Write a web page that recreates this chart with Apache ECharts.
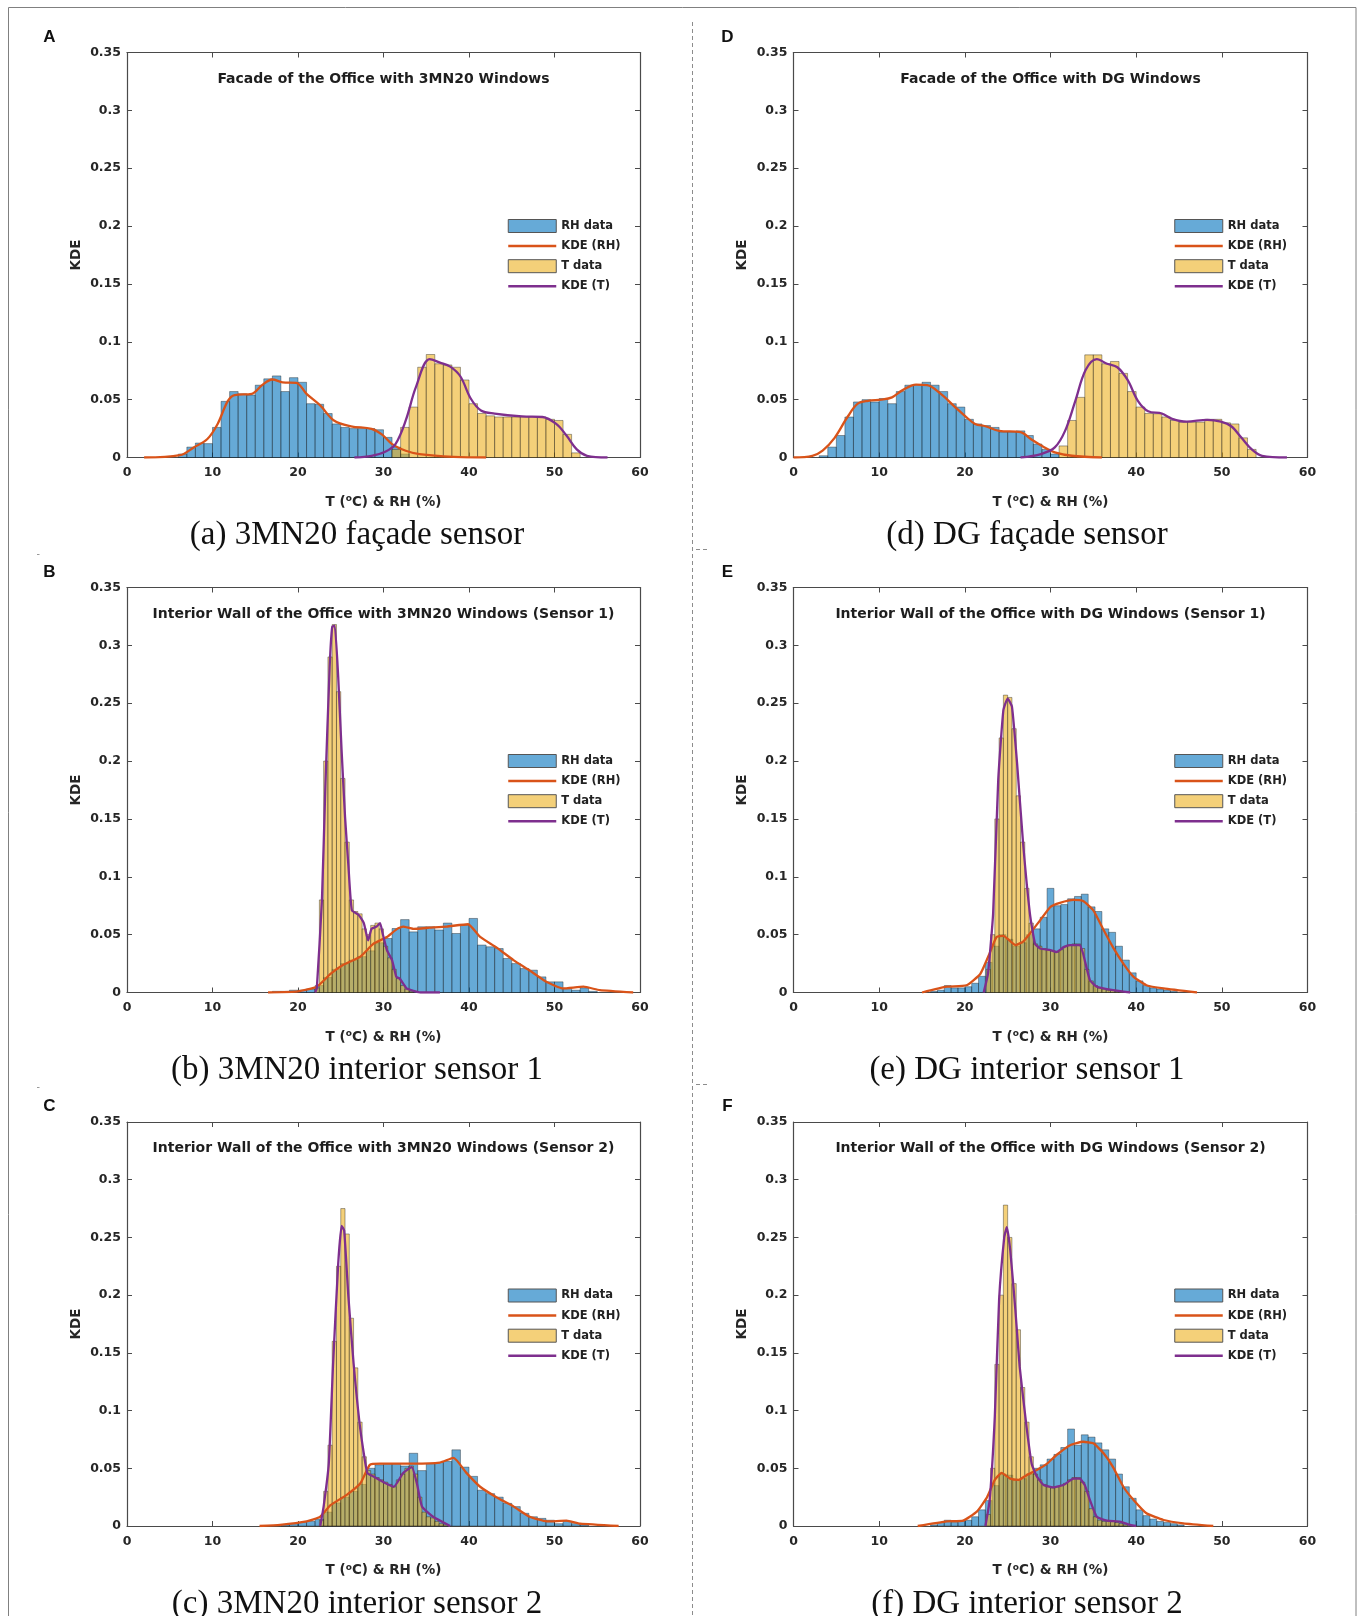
<!DOCTYPE html>
<html>
<head>
<meta charset="utf-8">
<script src="https://cdn.jsdelivr.net/npm/echarts@6/dist/echarts.min.js"></script>
<style>
  html, body { margin: 0; padding: 0; background: #fff; }
  #main { width: 1357px; height: 1616px; }
</style>
</head>
<body>
<div id="main"></div>
<script>
// ---- axis ticks -------------------------------------------------------
const xTickLabels = [0, 10, 20, 30, 40, 50, 60];
const yTickLabels = [0, 0.05, 0.1, 0.15, 0.2, 0.25, 0.3, 0.35];
const seriesNames = ['RH data', 'KDE (RH)', 'T data', 'KDE (T)'];

// ---- panel texts ------------------------------------------------------
const panelLetters = ['A', 'B', 'C', 'D', 'E', 'F'];
const panelTitles = [
  'Facade of the Office with 3MN20 Windows',
  'Interior Wall of the Office with 3MN20 Windows (Sensor 1)',
  'Interior Wall of the Office with 3MN20 Windows (Sensor 2)',
  'Facade of the Office with DG Windows',
  'Interior Wall of the Office with DG Windows (Sensor 1)',
  'Interior Wall of the Office with DG Windows (Sensor 2)'
];
const captions = [
  '(a) 3MN20 façade sensor',
  '(b) 3MN20 interior sensor 1',
  '(c) 3MN20 interior sensor 2',
  '(d) DG façade sensor',
  '(e) DG interior sensor 1',
  '(f) DG interior sensor 2'
];

// ---- A: 3MN20 facade --------------------------------------------------
const rhBinStart_A = 6, rhBinWidth_A = 1;
const rhHist_A = [0.003, 0.009, 0.0125, 0.012, 0.026, 0.0485, 0.057, 0.055, 0.054, 0.0625,
  0.068, 0.0705, 0.057, 0.069, 0.065, 0.0465, 0.046, 0.038, 0.029, 0.026,
  0.025, 0.025, 0.025, 0.024, 0.0174, 0.009, 0.003];
const tBinStart_A = 31, tBinWidth_A = 1;
const tHist_A = [0.007, 0.026, 0.0436, 0.078, 0.089, 0.081, 0.08, 0.078, 0.067, 0.0465,
  0.038, 0.036, 0.035, 0.035, 0.035, 0.035, 0.035, 0.035, 0.033, 0.032, 0.02, 0.004];
const kdeRH_A = [[2, 0], [6.2, 0.002], [7.8, 0.0087], [9.4, 0.016], [10.6, 0.029], [11.8, 0.049],
  [12.6, 0.054], [14.6, 0.055], [15.8, 0.0625], [17, 0.0674], [18.2, 0.065], [19.8, 0.0645],
  [21, 0.055], [22.6, 0.045], [24.2, 0.032], [26.2, 0.027], [28.6, 0.0247], [29.8, 0.02],
  [31, 0.0116], [32.6, 0.0058], [34.2, 0.003], [38.2, 0.0006], [42, 0]];
const kdeT_A = [[26.6, 0], [28.6, 0.0015], [30.2, 0.005], [31.4, 0.0116], [32.6, 0.032], [33.8, 0.061],
  [35.4, 0.085], [36.6, 0.082], [37.8, 0.0785], [39, 0.07], [40.2, 0.051], [41.4, 0.0407],
  [43, 0.038], [46.2, 0.0355], [48.6, 0.035], [50.2, 0.029], [51.4, 0.019], [52.6, 0.007],
  [53.8, 0.0015], [56.2, 0]];

// ---- B: 3MN20 interior sensor 1 ---------------------------------------
const rhBinStart_B = 17, rhBinWidth_B = 1;
const rhHist_B = [0.001, 0.001, 0.002, 0.002, 0.003, 0.006, 0.013, 0.02, 0.025, 0.028,
  0.031, 0.036, 0.043, 0.0467, 0.0553, 0.063, 0.0524, 0.0568, 0.0568, 0.054,
  0.06, 0.051, 0.058, 0.064, 0.041, 0.0395, 0.038, 0.0294, 0.025, 0.0207,
  0.0193, 0.0135, 0.0092, 0.0092, 0.0035, 0.002, 0.004, 0.001];
const tBinStart_B = 22, tBinWidth_B = 0.5;
const tHist_B = [0.004, 0.08, 0.2, 0.29, 0.318, 0.26, 0.185, 0.13, 0.08, 0.07,
  0.068, 0.055, 0.05, 0.058, 0.06, 0.055, 0.04, 0.03, 0.02, 0.012, 0.006, 0.003, 0.001];
const kdeRH_B = [[16.5, 0], [20, 0.001], [22.2, 0.005], [23.8, 0.016], [25.3, 0.024], [27.3, 0.031],
  [28.8, 0.042], [30.4, 0.048], [31.6, 0.055], [32.3, 0.057], [33.5, 0.055], [35.4, 0.056],
  [37.4, 0.057], [39.9, 0.059], [41.3, 0.048], [43.2, 0.039], [45.2, 0.028], [47.1, 0.019],
  [49.1, 0.009], [51, 0.0035], [53.4, 0.005], [55.3, 0.002], [59.2, 0]];
const kdeT_B = [[22, 0], [22.2, 0.0035], [22.8, 0.08], [23.2, 0.178], [23.7, 0.281], [24, 0.316],
  [24.3, 0.317], [24.7, 0.273], [25.1, 0.209], [25.5, 0.152], [25.9, 0.109], [26.3, 0.071],
  [27.1, 0.067], [27.7, 0.06], [28.2, 0.045], [28.6, 0.055], [29.2, 0.057], [29.6, 0.06],
  [29.9, 0.051], [30.4, 0.0366], [31, 0.028], [31.5, 0.0135], [31.9, 0.012], [32.7, 0.0035],
  [33.5, 0.0015], [34.3, 0], [36.6, 0]];

// ---- C: 3MN20 interior sensor 2 ---------------------------------------
const rhBinStart_C = 18, rhBinWidth_C = 1;
const rhHist_C = [0.001, 0.002, 0.003, 0.004, 0.006, 0.012, 0.02, 0.025, 0.03, 0.036,
  0.05, 0.053, 0.054, 0.054, 0.052, 0.063, 0.048, 0.054, 0.055, 0.056,
  0.066, 0.051, 0.043, 0.031, 0.028, 0.025, 0.0196, 0.0168, 0.011, 0.008,
  0.0066, 0.005, 0.002, 0.004, 0.002, 0.001];
const tBinStart_C = 22.5, tBinWidth_C = 0.5;
const tHist_C = [0.005, 0.03, 0.07, 0.16, 0.225, 0.275, 0.253, 0.18, 0.137, 0.09,
  0.06, 0.048, 0.045, 0.042, 0.04, 0.038, 0.036, 0.034, 0.04, 0.045,
  0.05, 0.052, 0.045, 0.025, 0.012, 0.008, 0.007, 0.004, 0.002, 0.001];
const kdeRH_C = [[15.5, 0], [17.9, 0.001], [21, 0.004], [22.6, 0.008], [23.8, 0.018], [25.7, 0.027],
  [27.3, 0.037], [28.4, 0.053], [29.6, 0.054], [33.5, 0.054], [36.6, 0.055], [38.2, 0.059],
  [39.7, 0.046], [41.3, 0.034], [43.2, 0.025], [45.2, 0.017], [47.1, 0.008], [49.1, 0.004],
  [51.4, 0.0046], [53, 0.002], [57.5, 0]];
const kdeT_C = [[22.6, 0], [23, 0.017], [23.6, 0.054], [24.1, 0.14], [24.7, 0.227], [25.1, 0.26],
  [25.4, 0.256], [25.9, 0.198], [26.5, 0.141], [27.3, 0.083], [28.1, 0.046], [28.8, 0.043],
  [30, 0.038], [31.2, 0.034], [32.3, 0.046], [33.3, 0.051], [33.9, 0.037], [34.5, 0.017],
  [35.8, 0.008], [37.8, 0]];

// ---- D: DG facade -----------------------------------------------------
const rhBinStart_D = 3, rhBinWidth_D = 1;
const rhHist_D = [0.0015, 0.009, 0.019, 0.035, 0.048, 0.05, 0.048, 0.051, 0.0465, 0.057,
  0.0625, 0.063, 0.065, 0.0625, 0.057, 0.0465, 0.0436, 0.033, 0.029, 0.0276,
  0.026, 0.022, 0.022, 0.023, 0.019, 0.0116, 0.007, 0.003];
const tBinStart_D = 31, tBinWidth_D = 1;
const tHist_D = [0.01, 0.032, 0.052, 0.0887, 0.0887, 0.081, 0.083, 0.0727, 0.057, 0.0436,
  0.038, 0.0378, 0.035, 0.032, 0.0305, 0.0305, 0.0305, 0.033, 0.033, 0.03, 0.029, 0.017, 0.007];
const kdeRH_D = [[0, 0], [2.2, 0.0015], [3.4, 0.006], [4.8, 0.017], [6.3, 0.035], [7.5, 0.0465],
  [8.7, 0.049], [10.3, 0.05], [11.5, 0.052], [12.7, 0.058], [14.3, 0.063], [15.6, 0.0625],
  [17.2, 0.055], [18.8, 0.044], [20, 0.036], [21.2, 0.029], [22.4, 0.027], [24, 0.023],
  [26.5, 0.022], [27.7, 0.016], [29.3, 0.0087], [30.5, 0.0044], [32.5, 0.0015], [36, 0]];
const kdeT_D = [[26.5, 0], [28.9, 0.003], [30.5, 0.0087], [31.7, 0.023], [32.9, 0.049], [34.1, 0.0756],
  [35.4, 0.085], [36.6, 0.081], [37.8, 0.078], [39, 0.067], [40.2, 0.049], [41.4, 0.04],
  [43, 0.038], [44.2, 0.0334], [45.9, 0.031], [48.3, 0.0326], [49.9, 0.031], [51.1, 0.027],
  [52.3, 0.017], [53.5, 0.007], [54.7, 0.0015], [57.6, 0]];

// ---- E: DG interior sensor 1 ------------------------------------------
const rhBinStart_E = 16, rhBinWidth_E = 0.8;
const rhHist_E = [0.001, 0.002, 0.006, 0.004, 0.004, 0.005, 0.008, 0.014, 0.026, 0.04,
  0.05, 0.046, 0.04, 0.043, 0.05, 0.055, 0.065, 0.09, 0.075, 0.076,
  0.081, 0.083, 0.085, 0.074, 0.07, 0.055, 0.052, 0.04, 0.028, 0.017,
  0.01, 0.006, 0.004, 0.003, 0.002, 0.001];
const tBinStart_E = 22.5, tBinWidth_E = 0.5;
const tHist_E = [0.02, 0.05, 0.15, 0.22, 0.257, 0.255, 0.228, 0.17, 0.13, 0.09,
  0.06, 0.042, 0.04, 0.038, 0.037, 0.036, 0.035, 0.037, 0.04, 0.041,
  0.042, 0.042, 0.038, 0.02, 0.01, 0.006, 0.004, 0.003, 0.002, 0.002, 0.001, 0.001];
const kdeRH_E = [[15, 0], [17.9, 0.005], [20.2, 0.0063], [21.8, 0.016], [22.9, 0.034], [23.7, 0.048],
  [24.5, 0.049], [25.9, 0.041], [26.8, 0.044], [27.6, 0.051], [28.8, 0.0625], [30, 0.074],
  [31.1, 0.0775], [32.7, 0.08], [33.8, 0.079], [35, 0.071], [36.2, 0.054], [37.3, 0.039],
  [38.5, 0.025], [39.7, 0.0135], [41.2, 0.0063], [43.2, 0.0035], [47.1, 0]];
const kdeT_E = [[22.2, 0], [22.7, 0.016], [23.3, 0.068], [23.9, 0.184], [24.5, 0.244], [25, 0.254],
  [25.5, 0.247], [26.1, 0.198], [26.8, 0.129], [27.6, 0.068], [28.2, 0.042], [28.8, 0.038],
  [30, 0.0366], [30.7, 0.035], [31.5, 0.039], [32.3, 0.041], [33.4, 0.041], [33.8, 0.0337],
  [34.6, 0.0107], [35.4, 0.005], [37.3, 0.002], [39.3, 0]];

// ---- F: DG interior sensor 2 ------------------------------------------
const rhBinStart_F = 16, rhBinWidth_F = 0.8;
const rhHist_F = [0.001, 0.003, 0.005, 0.003, 0.004, 0.005, 0.008, 0.014, 0.022, 0.035,
  0.045, 0.044, 0.04, 0.041, 0.045, 0.05, 0.053, 0.058, 0.062, 0.068,
  0.084, 0.07, 0.079, 0.077, 0.072, 0.066, 0.058, 0.045, 0.034, 0.024,
  0.014, 0.009, 0.006, 0.004, 0.003, 0.002, 0.001];
const tBinStart_F = 22.5, tBinWidth_F = 0.5;
const tHist_F = [0.01, 0.05, 0.14, 0.2, 0.278, 0.25, 0.21, 0.17, 0.12, 0.09,
  0.06, 0.045, 0.04, 0.036, 0.034, 0.033, 0.034, 0.035, 0.037, 0.04,
  0.042, 0.042, 0.038, 0.03, 0.015, 0.008, 0.005, 0.004, 0.004, 0.004, 0.003, 0.002, 0.001];
const kdeRH_F = [[14.5, 0], [17.9, 0.004], [19.8, 0.0046], [21.4, 0.0124], [22.6, 0.025], [23.5, 0.04],
  [24.3, 0.046], [25.3, 0.041], [26.3, 0.04], [27.2, 0.044], [28.4, 0.0485], [29.6, 0.054],
  [30.7, 0.0615], [32.3, 0.07], [33.8, 0.073], [35, 0.0716], [36.2, 0.063], [37.3, 0.051],
  [38.5, 0.034], [39.7, 0.0225], [41.2, 0.011], [43.2, 0.0052], [45.5, 0.0023], [49, 0]];
const kdeT_F = [[22.4, 0], [22.9, 0.0225], [23.5, 0.095], [24, 0.196], [24.6, 0.25], [24.9, 0.259],
  [25.3, 0.239], [25.9, 0.187], [26.4, 0.138], [27.2, 0.086], [27.8, 0.054], [28.4, 0.043],
  [29.2, 0.0355], [30.3, 0.0335], [31.5, 0.0355], [32.7, 0.041], [33.4, 0.041], [34, 0.0355],
  [34.6, 0.0225], [35.4, 0.008], [36.6, 0.0046], [38.1, 0.0038], [39.3, 0.0009], [40, 0]];

// ---- panel collection (left column A-C, right column D-F) ---------------
const panels = [
  { rh: rhHist_A, rhStart: rhBinStart_A, rhWidth: rhBinWidth_A, t: tHist_A, tStart: tBinStart_A, tWidth: tBinWidth_A, kdeRH: kdeRH_A, kdeT: kdeT_A, smooth: 0.35 },
  { rh: rhHist_B, rhStart: rhBinStart_B, rhWidth: rhBinWidth_B, t: tHist_B, tStart: tBinStart_B, tWidth: tBinWidth_B, kdeRH: kdeRH_B, kdeT: kdeT_B, smooth: 0.15 },
  { rh: rhHist_C, rhStart: rhBinStart_C, rhWidth: rhBinWidth_C, t: tHist_C, tStart: tBinStart_C, tWidth: tBinWidth_C, kdeRH: kdeRH_C, kdeT: kdeT_C, smooth: 0.15 },
  { rh: rhHist_D, rhStart: rhBinStart_D, rhWidth: rhBinWidth_D, t: tHist_D, tStart: tBinStart_D, tWidth: tBinWidth_D, kdeRH: kdeRH_D, kdeT: kdeT_D, smooth: 0.35 },
  { rh: rhHist_E, rhStart: rhBinStart_E, rhWidth: rhBinWidth_E, t: tHist_E, tStart: tBinStart_E, tWidth: tBinWidth_E, kdeRH: kdeRH_E, kdeT: kdeT_E, smooth: 0.15 },
  { rh: rhHist_F, rhStart: rhBinStart_F, rhWidth: rhBinWidth_F, t: tHist_F, tStart: tBinStart_F, tWidth: tBinWidth_F, kdeRH: kdeRH_F, kdeT: kdeT_F, smooth: 0.15 }
];

// ---- layout & style ---------------------------------------------------
const colLeft = [127, 793.5], colWidth = [513, 514];
const rowTop = [52.5, 587.5, 1122], rowHeight = [405, 405, 404];
const SANS = 'DejaVu Sans';
const BLUE_FILL = 'rgba(0,114,189,0.6)';
const YELLOW_FILL = 'rgba(237,177,32,0.6)';
const BAR_EDGE = 'rgba(20,20,20,0.55)';
const ORANGE = '#D95319';
const PURPLE = '#7E2F8E';
const AXIS_COLOR = '#4a4a4a';
const TEXT_COLOR = '#262626';
const NO_SYMBOL = { color: 'rgba(0,0,0,0)', borderWidth: 0 };

// histogram rows: [binStart, binEnd, density]
function binsOf(start, width, heights) {
  return heights.map((h, i) => [start + i * width, start + (i + 1) * width, h]);
}
function binRenderer(fill) {
  return function (params, api) {
    const topLeft = api.coord([api.value(0), api.value(2)]);
    const bottomRight = api.coord([api.value(1), 0]);
    return {
      type: 'rect',
      shape: { x: topLeft[0], y: topLeft[1], width: bottomRight[0] - topLeft[0], height: bottomRight[1] - topLeft[1] },
      style: { fill: fill, stroke: BAR_EDGE, lineWidth: 0.7 }
    };
  };
}

const grids = [], xAxes = [], yAxes = [], series = [], legends = [], graphics = [];
const yFmt = v => String(+v.toFixed(2));

panels.forEach((p, i) => {
  const col = i < 3 ? 0 : 1, row = i % 3;
  const left = colLeft[col], top = rowTop[row], w = colWidth[col], h = rowHeight[row];
  grids.push({ left: left, top: top, width: w, height: h, containLabel: false });

  const tickCommon = {
    axisLine: { show: true, onZero: false, lineStyle: { color: AXIS_COLOR, width: 1.2 } },
    axisTick: { show: true, inside: true, length: 5, lineStyle: { color: AXIS_COLOR, width: 1 } },
    splitLine: { show: false }
  };
  const xMin = xTickLabels[0], xMax = xTickLabels[xTickLabels.length - 1];
  const xStep = xTickLabels[1] - xTickLabels[0];
  const yMin = yTickLabels[0], yMax = yTickLabels[yTickLabels.length - 1];
  const yStep = yTickLabels[1] - yTickLabels[0];

  xAxes.push(Object.assign({
    type: 'value', gridIndex: i, position: 'bottom', min: xMin, max: xMax, interval: xStep,
    axisLabel: { margin: 9, color: TEXT_COLOR, fontFamily: SANS, fontWeight: 'bold', fontSize: 12.5 },
    name: 'T ({sup|o}C) & RH (%)', nameLocation: 'middle', nameGap: 37,
    nameTextStyle: {
      fontFamily: SANS, fontWeight: 'bold', fontSize: 13.5, color: TEXT_COLOR,
      rich: { sup: { fontFamily: SANS, fontWeight: 'bold', fontSize: 9, color: TEXT_COLOR, padding: [0, 0, 6, 0] } }
    }
  }, tickCommon));
  xAxes.push(Object.assign({
    type: 'value', gridIndex: i, position: 'top', min: xMin, max: xMax, interval: xStep,
    axisLabel: { show: false }
  }, tickCommon));

  yAxes.push(Object.assign({
    type: 'value', gridIndex: i, position: 'left', min: yMin, max: yMax, interval: yStep,
    axisLabel: { margin: 6, color: TEXT_COLOR, fontFamily: SANS, fontWeight: 'bold', fontSize: 12.5, formatter: yFmt },
    name: 'KDE', nameLocation: 'middle', nameGap: 44,
    nameTextStyle: { fontFamily: SANS, fontWeight: 'bold', fontSize: 13.5, color: TEXT_COLOR }
  }, tickCommon));
  yAxes.push(Object.assign({
    type: 'value', gridIndex: i, position: 'right', min: yMin, max: yMax, interval: yStep,
    axisLabel: { show: false }
  }, tickCommon));

  const xi = 2 * i, yi = 2 * i;
  series.push({
    type: 'custom', name: seriesNames[0], xAxisIndex: xi, yAxisIndex: yi,
    renderItem: binRenderer(BLUE_FILL), itemStyle: { color: BLUE_FILL },
    encode: { x: [0, 1], y: 2 }, data: binsOf(p.rhStart, p.rhWidth, p.rh), silent: true
  });
  series.push({
    type: 'line', name: seriesNames[1], xAxisIndex: xi, yAxisIndex: yi,
    data: p.kdeRH, symbol: 'none', smooth: p.smooth,
    lineStyle: { color: ORANGE, width: 2.3 }, itemStyle: { color: ORANGE }, silent: true
  });
  series.push({
    type: 'custom', name: seriesNames[2], xAxisIndex: xi, yAxisIndex: yi,
    renderItem: binRenderer(YELLOW_FILL), itemStyle: { color: YELLOW_FILL },
    encode: { x: [0, 1], y: 2 }, data: binsOf(p.tStart, p.tWidth, p.t), silent: true
  });
  series.push({
    type: 'line', name: seriesNames[3], xAxisIndex: xi, yAxisIndex: yi,
    data: p.kdeT, symbol: 'none', smooth: p.smooth,
    lineStyle: { color: PURPLE, width: 2.3 }, itemStyle: { color: PURPLE }, silent: true
  });

  legends.push({
    orient: 'vertical', left: left + 380, top: top + 166.5, padding: 0,
    itemWidth: 48, itemHeight: 13, itemGap: 6.6, selectedMode: false,
    textStyle: { fontFamily: SANS, fontWeight: 'bold', fontSize: 11.5, color: '#222', lineHeight: 13 },
    data: [
      { name: seriesNames[0], icon: 'rect', itemStyle: { color: '#66AAD7', borderColor: '#555', borderWidth: 1 } },
      { name: seriesNames[1], itemStyle: NO_SYMBOL, lineStyle: { color: ORANGE, width: 2.5 } },
      { name: seriesNames[2], icon: 'rect', itemStyle: { color: '#F4D079', borderColor: '#555', borderWidth: 1 } },
      { name: seriesNames[3], itemStyle: NO_SYMBOL, lineStyle: { color: PURPLE, width: 2.5 } }
    ]
  });

  // panel letter, in-plot title, caption
  graphics.push({
    type: 'text', x: col === 0 ? 49.5 : 727.5, y: top - 15.5,
    style: { text: panelLetters[i], fontFamily: 'Liberation Sans', fontWeight: 'bold', fontSize: 17, fill: '#111', textAlign: 'center', textVerticalAlign: 'middle' }
  });
  graphics.push({
    type: 'text', x: left + w / 2, y: top + 26.5,
    style: { text: panelTitles[i], fontFamily: SANS, fontWeight: 'bold', fontSize: 14, fill: '#1e1e1e', textAlign: 'center', textVerticalAlign: 'middle' }
  });
  graphics.push({
    type: 'text', x: col === 0 ? 357 : 1027, y: top + h + 78,
    style: { text: captions[i], fontFamily: 'Liberation Serif', fontSize: 33, fill: '#111', textAlign: 'center', textVerticalAlign: 'middle' }
  });
});

// outer frame, column divider and small separator marks
graphics.push({ type: 'rect', shape: { x: 8.5, y: 7.5, width: 1347.5, height: 1700 }, style: { fill: 'none', stroke: '#808080', lineWidth: 1 }, silent: true });
graphics.push({ type: 'line', shape: { x1: 692.5, y1: 22, x2: 692.5, y2: 1616 }, style: { stroke: '#8c8c8c', lineWidth: 1, lineDash: [4, 3] }, silent: true });
graphics.push({ type: 'line', shape: { x1: 696, y1: 549.5, x2: 707, y2: 549.5 }, style: { stroke: '#8c8c8c', lineWidth: 1, lineDash: [4, 3] }, silent: true });
graphics.push({ type: 'line', shape: { x1: 696, y1: 1084.5, x2: 707, y2: 1084.5 }, style: { stroke: '#8c8c8c', lineWidth: 1, lineDash: [4, 3] }, silent: true });
graphics.push({ type: 'line', shape: { x1: 37, y1: 554.5, x2: 39.5, y2: 554.5 }, style: { stroke: '#999', lineWidth: 1 }, silent: true });
graphics.push({ type: 'line', shape: { x1: 37, y1: 1087.5, x2: 39.5, y2: 1087.5 }, style: { stroke: '#999', lineWidth: 1 }, silent: true });

const chart = echarts.init(document.getElementById('main'), null, { renderer: 'canvas' });
chart.setOption({
  backgroundColor: '#ffffff',
  animation: false,
  grid: grids,
  xAxis: xAxes,
  yAxis: yAxes,
  legend: legends,
  series: series,
  graphic: graphics
});
</script>
</body>
</html>
